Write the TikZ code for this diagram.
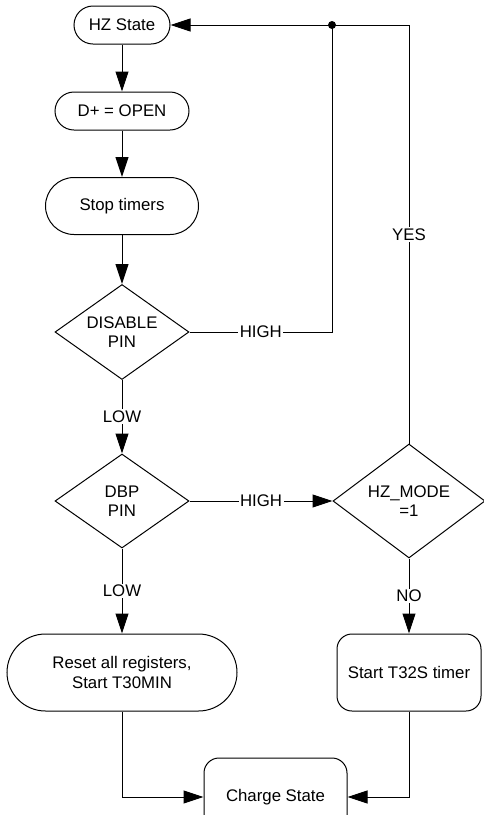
\documentclass[tikz,border=0pt]{standalone}
\usepackage{fontspec}
\setmainfont{Liberation Sans}
\usetikzlibrary{arrows.meta,shapes.geometric}
\begin{document}
\begin{tikzpicture}[x=1pt,y=-1pt,
  every node/.style={font=\fontsize{16.8}{19.5}\selectfont, align=center},
  pill/.style={draw, line width=1pt, rectangle, inner sep=0pt, fill=white},
  dmd/.style={draw, line width=1pt, diamond, inner sep=0pt, fill=white},
  lbl/.style={fill=white, inner sep=1.5pt},
  conn/.style={line width=1pt},
  arr/.style={line width=1pt, -{Triangle[length=20pt,width=13pt]}}
]
\clip (0,0) rectangle (484,815);
\fill[white] (0,0) rectangle (484,815);

\node[pill, minimum width=96pt, minimum height=38pt, rounded corners=19pt] (hz) at (122,25) {HZ State};
\node[pill, minimum width=134pt, minimum height=38pt, rounded corners=19pt] (dplus) at (122,111) {D+ = OPEN};
\node[pill, minimum width=153pt, minimum height=57pt, rounded corners=28.5pt] (stop) at (122,206) {Stop timers};
\node[dmd, minimum width=134pt, minimum height=95pt, shape aspect=1.41] (dis) at (122,332) {DISABLE\\PIN};
\node[dmd, minimum width=134pt, minimum height=94pt, shape aspect=1.42] (dbp) at (122,501) {DBP\\PIN};
\node[dmd, minimum width=152pt, minimum height=114pt, shape aspect=1.33] (hzm) at (409,501) {HZ\_MODE\\=1};
\node[pill, minimum width=230pt, minimum height=77pt, rounded corners=38.5pt] (reset) at (122,672.5) {Reset all registers,\\Start T30MIN};
\node[pill, minimum width=144pt, minimum height=77pt, rounded corners=15pt] (t32) at (409,672.5) {Start T32S timer};
\node[pill, minimum width=143pt, minimum height=78pt, rounded corners=15pt] (charge) at (275.5,797) {Charge State};
\node[circle, fill, inner sep=0pt, minimum size=8pt] (dot) at (332,25) {};

\draw[arr] (hz) -- (dplus);
\draw[arr] (dplus) -- (stop);
\draw[arr] (stop) -- (dis);
\draw[arr] (dis) -- node[lbl]{LOW} (dbp);
\draw[arr] (dbp) -- node[lbl]{HIGH} (hzm);
\draw[arr] (dbp) -- node[lbl]{LOW} (reset);
\draw[arr] (hzm) -- node[lbl]{NO} (t32);
\draw[arr] (hzm.north) -- node[lbl]{YES} (hzm.north |- hz.east) -- (hz.east);
\draw[conn] (dis.east) -- node[lbl]{HIGH} (dis.east -| dot) -- (dot.center);
\draw[arr] (reset.south) |- (charge.west);
\draw[arr] (t32.south) |- (charge.east);
\end{tikzpicture}
\end{document}
